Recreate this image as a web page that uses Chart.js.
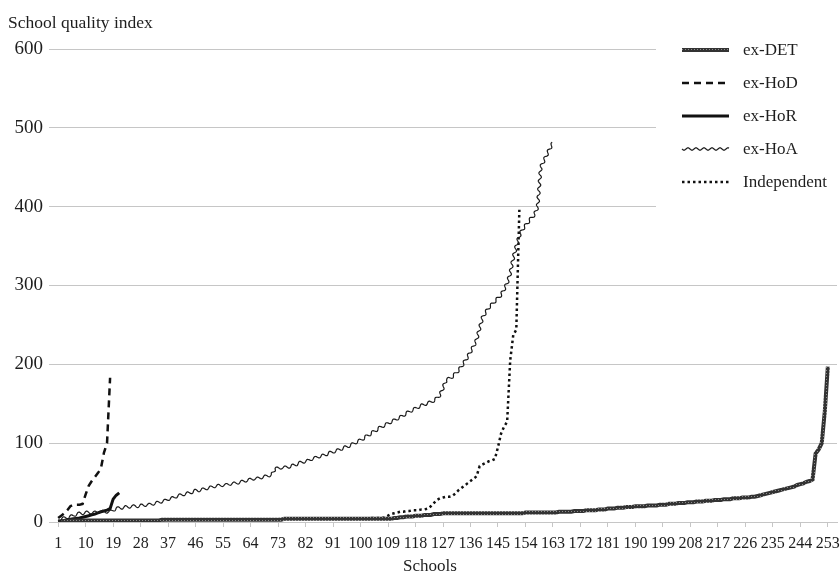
<!DOCTYPE html>
<html lang="en">
<head>
  <meta charset="UTF-8">
  <title>School quality index</title>
  <script src="https://cdn.jsdelivr.net/npm/chart.js"></script>
  <style>
    html, body { margin: 0; padding: 0; background: #fff; }
    #chart-container { width: 840px; height: 574px; }
  </style>
</head>
<body>
<div id="chart-container">
  <canvas id="grafico"></canvas>
</div>

<script>
  const seriesNames = ['ex-DET', 'ex-HoD', 'ex-HoR', 'ex-HoA', 'Independent'];
  const xTicks = [1, 10, 19, 28, 37, 46, 55, 64, 73, 82, 91, 100, 109, 118, 127, 136, 145, 154,
    163, 172, 181, 190, 199, 208, 217, 226, 235, 244, 253];
  const yTicks = [0, 100, 200, 300, 400, 500, 600];

  // values sorted by school
  const exDET = [
    1, 1, 1, 2, 2, 2, 2, 2, 2, 2,
    2, 2, 2, 2, 2, 2, 2, 2, 2, 2,
    2, 2, 2, 2, 2, 2, 2, 2, 2, 2,
    2, 2, 2, 2, 3, 3, 3, 3, 3, 3,
    3, 3, 3, 3, 3, 3, 3, 3, 3, 3,
    3, 3, 3, 3, 3, 3, 3, 3, 3, 3,
    3, 3, 3, 3, 3, 3, 3, 3, 3, 3,
    3, 3, 3, 3, 4, 4, 4, 4, 4, 4,
    4, 4, 4, 4, 4, 4, 4, 4, 4, 4,
    4, 4, 4, 4, 4, 4, 4, 4, 4, 4,
    4, 4, 4, 4, 4, 4, 4, 4, 4, 4,
    5, 5, 6, 6, 7, 7, 7, 8, 8, 8,
    9, 9, 9, 10, 10, 10, 11, 11, 11, 11,
    11, 11, 11, 11, 11, 11, 11, 11, 11, 11,
    11, 11, 11, 11, 11, 11, 11, 11, 11, 11,
    11, 11, 11, 12, 12, 12, 12, 12, 12, 12,
    12, 12, 12, 12, 13, 13, 13, 13, 13, 14,
    14, 14, 14, 15, 15, 15, 15, 16, 16, 16,
    17, 17, 17, 18, 18, 18, 19, 19, 19, 20,
    20, 20, 20, 21, 21, 21, 21, 22, 22, 22,
    23, 23, 23, 24, 24, 24, 25, 25, 25, 26,
    26, 26, 27, 27, 27, 28, 28, 28, 29, 29,
    29, 30, 30, 30, 31, 31, 31, 32, 32, 33,
    34, 35, 36, 37, 38, 39, 40, 41, 42, 43,
    44, 45, 47, 48, 49, 51, 52, 54, 87, 92,
    100, 140, 197
  ];
  const exHoD = [5, 8, 11, 15, 20, 22, 22, 22, 23, 35, 46, 52, 57, 62, 68, 88, 100, 183];
  const exHoR = [0, 1, 2, 3, 3.5, 4, 4.5, 5, 6, 7, 8, 9, 10, 11.5, 13, 14, 15, 17, 29, 34, 37];
  const exHoA = [
    2, 4, 5, 6, 7, 8, 10, 11, 11, 12,
    12, 12, 12, 13, 13, 13, 13, 13, 15, 17,
    18, 18, 19, 19, 20, 20, 20, 21, 21, 22,
    22, 23, 24, 25, 26, 27, 29, 30, 31, 33,
    34, 35, 36, 37, 38, 40, 40, 41, 42, 43,
    44, 45, 46, 46, 47, 47, 48, 49, 49, 50,
    51, 52, 53, 54, 55, 55, 56, 57, 58, 59,
    60, 68, 68, 69, 69, 70, 70, 72, 73, 75,
    76, 77, 78, 80, 81, 83, 83, 85, 86, 88,
    89, 90, 92, 93, 95, 96, 98, 100, 102, 104,
    106, 109, 111, 114, 116, 119, 121, 123, 125, 127,
    129, 131, 133, 135, 138, 140, 142, 144, 146, 148,
    149, 151, 152, 154, 157, 161, 170, 180, 182, 184,
    188, 192, 197, 203, 209, 216, 223, 231, 246, 260,
    266, 272, 276, 280, 284, 288, 295, 303, 315, 335,
    350, 363, 371, 376, 381, 386, 390, 400, 450, 458,
    466, 474, 481
  ];
  const independent = [
    0, 1, 1, 1, 1, 1, 1, 1, 1, 1,
    1, 1, 1, 2, 2, 2, 2, 2, 2, 2,
    2, 2, 2, 2, 2, 2, 2, 2, 2, 2,
    2, 2, 2, 2, 2, 3, 3, 3, 3, 3,
    3, 3, 3, 3, 3, 3, 3, 3, 3, 3,
    3, 3, 3, 3, 3, 3, 3, 3, 3, 3,
    3, 3, 3, 3, 3, 3, 3, 3, 3, 3,
    3, 3, 3, 4, 4, 4, 4, 4, 4, 4,
    4, 4, 4, 4, 4, 4, 4, 4, 4, 4,
    4, 4, 4, 4, 4, 4, 4, 4, 4, 4,
    4, 4, 5, 5, 5, 5, 5, 6, 8, 10,
    11, 12, 13, 13, 14, 14, 15, 15, 15, 16,
    16, 17, 20, 24, 28, 30, 31, 32, 32, 33,
    36, 40, 43, 46, 49, 52, 55, 58, 71, 73,
    75, 77, 78, 80, 95, 112, 121, 127, 205, 237,
    244, 396
  ];

  const serif = "'Liberation Serif', 'DejaVu Serif', serif";
  const textColor = '#1e1e1e';
  const gridColor = '#c6c6c6';

  // textured stroke for ex-DET
  const pc = document.createElement('canvas');
  pc.width = 3; pc.height = 3;
  const pg = pc.getContext('2d');
  pg.fillStyle = '#333'; pg.fillRect(0, 0, 3, 3);
  pg.fillStyle = '#8c8c8c'; pg.fillRect(1, 1, 1, 1);
  const detPattern = pg.createPattern(pc, 'repeat');

  const styles = [
    { color: detPattern, width: 4, dash: [] },
    { color: '#111', width: 2.5, dash: [7, 5] },
    { color: '#111', width: 3, dash: [] },
    { color: '#1a1a1a', width: 1.2, dash: [], wave: true },
    { color: '#111', width: 2.5, dash: [2.5, 3] }
  ];
  const allSeries = [exDET, exHoD, exHoR, exHoA, independent];

  function toPoints(arr) {
    return arr.map((v, i) => ({ x: i + 1, y: v }));
  }

  // resample a polyline and draw it as a wavy stroke
  function drawWave(ctx, pts, amp, len) {
    const sm = [];
    for (let k = 0; k < pts.length - 1; k++) {
      const a = pts[k], b = pts[k + 1];
      const d = Math.hypot(b.x - a.x, b.y - a.y);
      const n = Math.max(1, Math.ceil(d / 0.5));
      for (let t = 0; t < n; t++) {
        sm.push({ x: a.x + (b.x - a.x) * t / n, y: a.y + (b.y - a.y) * t / n });
      }
    }
    sm.push(pts[pts.length - 1]);
    let s = 0;
    ctx.beginPath();
    for (let k = 0; k < sm.length; k++) {
      if (k > 0) s += Math.hypot(sm[k].x - sm[k - 1].x, sm[k].y - sm[k - 1].y);
      const p0 = sm[Math.max(0, k - 6)], p1 = sm[Math.min(sm.length - 1, k + 6)];
      const dx = p1.x - p0.x, dy = p1.y - p0.y;
      const d = Math.hypot(dx, dy) || 1;
      const off = amp * Math.sin(2 * Math.PI * s / len);
      const x = sm[k].x - dy / d * off, y = sm[k].y + dx / d * off;
      if (k === 0) ctx.moveTo(x, y); else ctx.lineTo(x, y);
    }
    ctx.stroke();
  }

  const decoracion = {
    id: 'decoracion',
    afterDatasetsDraw(chart) {
      const ctx = chart.ctx;
      const area = chart.chartArea;
      const meta = chart.getDatasetMeta(3);
      const pts = meta.data.map(p => ({ x: p.x, y: p.y }));
      ctx.save();
      ctx.beginPath();
      ctx.rect(area.left, area.top - 10, area.right - area.left, area.bottom - area.top + 10);
      ctx.clip();
      ctx.strokeStyle = styles[3].color;
      ctx.lineWidth = styles[3].width;
      ctx.lineJoin = 'round';
      drawWave(ctx, pts, 1.4, 8);
      ctx.restore();
    },
    afterDraw(chart) {
      const ctx = chart.ctx;
      ctx.save();
      ctx.fillStyle = textColor;
      ctx.font = '17.5px ' + serif;
      ctx.textBaseline = 'alphabetic';
      ctx.textAlign = 'left';
      ctx.fillText('School quality index', 8, 28);
      ctx.font = '17px ' + serif;
      ctx.textAlign = 'center';
      ctx.fillText('Schools', 430, 571);

      // legend over the plot
      ctx.fillStyle = '#fff';
      ctx.fillRect(656, 30, 184, 185);
      ctx.font = '17px ' + serif;
      ctx.textAlign = 'left';
      ctx.textBaseline = 'middle';
      seriesNames.forEach((name, i) => {
        const y = 50 + i * 33;
        const st = styles[i];
        ctx.strokeStyle = st.color;
        ctx.lineWidth = st.width;
        ctx.setLineDash(st.dash);
        if (st.wave) {
          drawWave(ctx, [{ x: 682, y: y }, { x: 729, y: y }], 1.2, 8);
        } else {
          ctx.beginPath();
          ctx.moveTo(682, y);
          ctx.lineTo(729, y);
          ctx.stroke();
        }
        ctx.setLineDash([]);
        ctx.fillStyle = textColor;
        ctx.fillText(name, 743, y + 1);
      });
      ctx.restore();
    }
  };

  const ctx = document.getElementById('grafico').getContext('2d');
  new Chart(ctx, {
    type: 'line',
    data: {
      datasets: seriesNames.map((name, i) => ({
        label: name,
        data: toPoints(allSeries[i]),
        borderColor: styles[i].wave ? 'rgba(0,0,0,0)' : styles[i].color,
        borderWidth: styles[i].wave ? 0 : styles[i].width,
        borderDash: styles[i].dash,
        borderCapStyle: 'butt',
        pointRadius: 0,
        tension: 0,
        fill: false
      }))
    },
    options: {
      responsive: true,
      maintainAspectRatio: false,
      animation: false,
      layout: { padding: { top: 49, right: 3, left: 0, bottom: 0 } },
      plugins: {
        legend: { display: false },
        title: { display: false },
        tooltip: { enabled: false }
      },
      scales: {
        x: {
          type: 'linear',
          min: -2,
          max: 256,
          afterBuildTicks: (scale) => { scale.ticks = xTicks.map(v => ({ value: v })); },
          afterFit: (scale) => { scale.height = 52; scale.paddingLeft = 0; scale.paddingRight = 0; },
          ticks: {
            autoSkip: false,
            maxRotation: 0,
            padding: 7,
            color: textColor,
            font: { family: serif, size: 16 },
            callback: (v) => String(v)
          },
          grid: { drawOnChartArea: false, drawTicks: true, tickLength: 5, color: gridColor },
          border: { color: gridColor }
        },
        y: {
          min: 0,
          max: 600,
          afterBuildTicks: (scale) => { scale.ticks = yTicks.map(v => ({ value: v })); },
          afterFit: (scale) => { scale.width = 49; },
          ticks: {
            padding: 6,
            color: textColor,
            font: { family: serif, size: 19 }
          },
          grid: { color: gridColor, drawTicks: false, lineWidth: 1 },
          border: { display: false }
        }
      }
    },
    plugins: [decoracion]
  });
</script>

</body>
</html>
